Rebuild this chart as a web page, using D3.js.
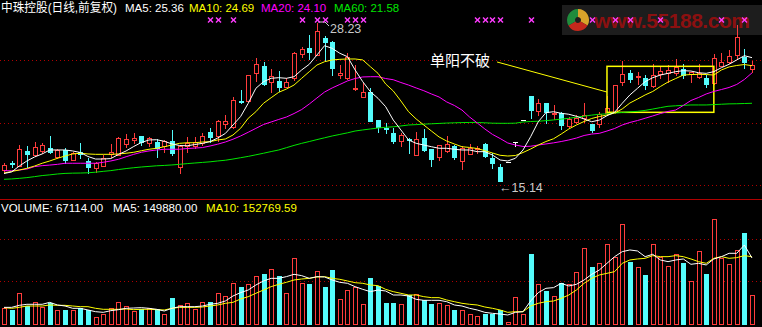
<!DOCTYPE html>
<html><head><meta charset="utf-8">
<script src="https://cdn.jsdelivr.net/npm/d3@7"></script>
<style>html,body{margin:0;padding:0;background:#000;overflow:hidden}svg{display:block}</style>
</head><body><svg id="c" width="762" height="327"></svg>
<script>
const stockName = "中珠控股(日线,前复权)";
const opens = [16.05,16.63,16.41,17.63,17.27,17.65,17.85,17.10,17.71,16.88,
17.57,16.80,16.19,16.41,17.35,17.29,18.23,18.54,18.87,18.26,
18.40,18.07,18.45,16.33,18.07,18.05,18.26,19.18,18.87,19.89,
19.64,21.77,21.77,24.06,24.67,23.37,23.42,22.95,23.65,25.64,
26.18,25.58,27.01,26.68,23.92,23.65,22.74,22.12,22.49,20.19,
19.56,19.14,18.48,18.64,17.29,18.73,17.79,17.10,17.63,18.04,
16.82,17.38,17.81,18.18,17.07,16.28,16.69,18.36,20.20,22.22,
20.96,21.58,20.67,20.80,19.72,20.05,20.36,19.84,19.84,20.77,
20.83,23.32,24.06,23.78,23.65,23.04,23.98,24.11,24.06,24.39,
23.98,23.78,23.65,23.23,24.69,24.97,25.54,25.44,24.39];
const closes = [16.47,16.55,17.77,17.38,17.93,18.10,17.57,17.71,16.88,17.44,
17.35,16.33,16.61,17.07,17.57,18.68,18.60,18.73,18.40,18.68,
17.90,18.45,17.44,18.07,18.26,18.40,18.89,18.81,20.11,20.13,
21.85,21.66,23.92,24.81,23.18,23.84,22.95,23.37,25.72,26.08,
25.80,27.57,26.68,24.48,24.06,25.44,22.82,22.49,20.11,19.59,
19.45,18.45,18.95,18.54,18.60,17.71,16.96,18.12,18.18,17.10,
17.85,17.85,17.85,17.21,16.61,15.17,16.69,18.36,20.20,21.02,
21.58,20.88,20.75,19.78,20.28,20.38,20.61,19.37,20.67,21.19,
23.09,23.98,23.59,23.86,23.09,23.92,24.25,24.34,24.61,23.92,
24.15,24.06,23.18,25.31,24.97,25.52,27.10,25.02,24.75];
const highs = [16.61,16.82,18.12,18.07,18.37,18.31,18.87,17.77,17.85,17.57,
18.31,17.02,16.74,17.29,18.21,18.76,19.03,19.12,18.88,18.76,
18.60,18.54,19.37,18.12,18.76,18.76,19.09,19.51,20.19,20.61,
22.12,22.68,23.96,25.36,25.02,24.42,24.25,23.70,25.80,26.27,
27.24,28.23,27.18,26.70,24.75,25.72,24.75,23.23,22.87,20.21,
19.92,19.51,19.09,18.68,19.18,19.42,17.81,18.14,18.87,18.12,
18.04,18.21,18.04,18.31,17.44,16.55,16.69,18.36,20.20,22.22,
21.93,21.60,21.44,20.82,20.47,20.61,21.58,19.86,20.83,22.18,
23.11,25.08,24.34,24.20,23.92,24.81,24.61,24.75,25.25,24.81,
24.20,24.81,23.92,25.64,25.72,25.99,28.06,26.08,25.08];
const lows = [15.83,16.33,16.38,16.33,17.21,17.49,17.44,17.02,16.61,16.86,
17.02,15.78,15.91,16.38,17.15,17.27,17.98,18.26,18.12,18.07,
17.10,17.57,17.29,15.78,17.57,17.85,18.12,18.35,18.45,19.51,
19.51,21.58,21.75,23.43,23.09,22.54,22.60,22.94,23.51,25.44,
25.25,25.56,25.17,23.92,23.65,23.63,22.72,22.10,20.09,19.22,
19.09,18.26,18.04,17.44,17.27,17.65,16.41,16.88,17.57,16.94,
16.11,17.36,17.49,17.15,16.19,15.14,16.69,18.04,20.20,20.34,
20.61,19.92,20.25,19.42,19.64,19.92,20.05,19.22,19.64,20.61,
20.75,23.09,23.37,23.15,22.74,22.95,23.65,23.37,23.92,23.65,
23.37,23.65,22.95,23.15,24.67,24.89,25.33,24.53,24.20];
const volumes = [37300,33600,70900,42500,50700,41000,48500,32800,33600,33600,
37300,33600,17200,24600,37300,50700,42500,31300,35000,37300,
35000,24600,59700,44800,48500,35800,50700,50700,70900,64900,
93200,84300,91000,109700,114100,125300,109700,70900,149200,93200,
91000,120100,85000,122300,57400,77600,85800,46300,104400,87300,
50000,50000,47000,67100,68600,56000,47000,48500,44800,33600,
33600,24600,20100,23900,23900,33600,6000,62000,24600,158900,
91000,76100,64900,93200,91000,117900,171600,130500,138000,180500,
152900,225300,141700,129100,111900,180500,152900,132000,158200,138800,
98500,165600,114100,237200,150700,136500,167900,205900,67114];
const ma5 = [15.76,15.89,16.38,16.80,17.13,17.38,17.71,17.71,17.71,17.63,
17.50,17.17,16.96,16.96,17.00,17.34,17.63,18.00,18.33,18.54,
18.56,18.43,18.21,18.08,18.06,18.16,18.26,18.40,18.70,19.08,
19.78,20.48,21.58,22.82,23.37,23.65,23.70,23.65,23.78,24.34,
24.81,25.58,26.35,26.13,25.72,25.44,24.34,23.37,22.54,21.99,
21.30,20.19,19.37,18.54,18.26,18.12,17.98,17.85,17.85,17.77,
17.71,17.71,17.57,17.57,17.29,16.88,16.80,17.02,17.71,18.81,
20.05,20.80,20.88,20.75,20.67,20.50,20.28,20.05,20.19,20.55,
20.83,21.58,22.27,22.82,23.37,23.70,23.92,24.06,24.20,24.28,
24.25,24.11,24.06,24.20,24.53,24.81,25.17,25.52,25.36];
const ma10 = [15.80,15.93,16.05,16.19,16.38,16.61,16.80,17.02,17.21,17.38,
17.44,17.38,17.35,17.35,17.35,17.38,17.44,17.52,17.65,17.77,
17.85,17.98,18.12,18.26,18.31,18.31,18.37,18.40,18.54,18.62,
18.95,19.51,20.34,20.88,21.58,22.04,22.49,22.76,23.09,23.65,
24.20,24.75,25.02,25.17,25.22,25.25,25.25,25.17,24.61,24.06,
23.18,22.60,21.77,20.88,20.28,19.78,19.28,18.79,18.45,18.21,
17.98,17.92,17.83,17.65,17.46,17.27,17.21,17.25,17.50,17.79,
18.12,18.41,18.64,19.03,19.45,19.78,20.07,20.32,20.48,20.61,
20.77,21.11,21.60,21.93,22.27,22.56,22.97,23.34,23.63,23.92,
23.96,23.98,23.96,23.92,24.34,24.59,24.71,24.79,24.69];
const ma20 = [15.99,15.99,16.05,16.13,16.33,16.41,16.46,16.52,16.61,16.61,
16.61,16.61,16.61,16.69,16.80,16.94,17.15,17.35,17.52,17.63,
17.71,17.77,17.77,17.77,17.83,17.87,17.91,18.04,18.19,18.37,
18.60,18.87,19.18,19.50,19.82,20.03,20.24,20.44,20.73,21.06,
21.52,22.02,22.51,22.85,23.14,23.43,23.63,23.76,23.78,23.78,
23.63,23.53,23.30,23.09,22.85,22.62,22.35,22.10,21.69,21.40,
21.02,20.44,19.95,19.45,19.00,18.66,18.29,18.12,18.00,18.02,
18.12,18.21,18.30,18.41,18.54,18.70,18.91,19.03,19.09,19.28,
19.49,19.78,19.99,20.15,20.34,20.53,20.73,20.90,21.02,21.40,
21.81,22.06,22.35,22.56,22.72,22.89,23.14,23.55,24.10];
const ma60 = [15.28,15.31,15.36,15.42,15.50,15.59,15.65,15.72,15.77,15.79,
15.80,15.82,15.87,15.94,16.00,16.09,16.17,16.24,16.30,16.35,
16.40,16.43,16.47,16.52,16.58,16.63,16.68,16.73,16.80,16.86,
16.96,17.07,17.18,17.31,17.44,17.58,17.71,17.90,18.09,18.26,
18.41,18.57,18.72,18.87,19.00,19.13,19.28,19.37,19.45,19.53,
19.59,19.63,19.70,19.78,19.81,19.85,19.88,19.91,19.94,19.96,
19.98,19.99,19.99,19.96,19.93,19.92,19.92,19.93,20.03,20.07,
20.09,20.14,20.20,20.27,20.33,20.43,20.51,20.60,20.67,20.70,
20.77,20.82,20.87,20.91,20.99,21.10,21.22,21.33,21.37,21.41,
21.44,21.44,21.44,21.47,21.50,21.53,21.54,21.56,21.58];
const volMa5 = [39500,39500,44000,46300,46300,46300,50700,44800,42500,37300,
37300,33600,29800,28300,32100,34300,37300,38000,38800,37300,
35100,31300,37300,41000,41000,41000,42500,46300,48500,53700,
64900,72400,78300,89500,98500,104400,104400,108200,113400,110400,
104400,108200,107400,100700,95500,93300,85800,79800,74600,78300,
76100,67100,67100,64900,57400,55200,55200,55200,52200,44800,
42500,37300,33600,28300,26100,24600,22400,28300,29800,53700,
72400,82100,83600,93300,87300,91000,100700,113400,123100,138000,
152900,164100,167900,165600,152900,158200,145500,141700,145500,147700,
135800,138000,134300,147700,152900,160400,160400,179000,149880];
const volMa10 = [38800,37300,39500,42500,42500,42500,44800,44000,44000,42500,
41000,41000,37300,35100,35100,35100,35800,34300,35100,35100,
34300,33600,37300,39500,39500,39500,40300,42500,44800,48500,
50700,58200,63400,70900,78300,85800,91000,95500,100700,102900,
104400,107400,108200,104400,102200,98500,94700,93300,89500,88000,
79800,74600,70900,67100,67100,63400,61200,61200,56000,52200,
48500,46300,44800,40300,37300,33600,28300,29800,29800,42500,
48500,52200,53700,59700,67100,78300,93300,104400,111900,115600,
119400,138000,145500,147700,149200,155200,152900,152900,155200,152900,
147700,141700,138000,149200,152900,149200,150700,155200,152769.59];
const signalIdx = [27,28,30,39,41,42,45,46,47,62,63,64,65,69,77,80,82,86,94,97];
const priceGrid = [25.17, 19.92, 14.81];
const volGrid = [192000, 98000];
const box = {from: 79, to: 93, top: 24.64, bottom: 20.83};
const note = {text: "单阳不破", idx: 55.8, price: 24.67, lineFrom: [64.6, 25.0], lineTo: [79, 22.51]};

const RED = "#ff3c3c", CYAN = "#54fcfc", WHITE = "#ffffff", YEL = "#ffff00", MAG = "#ff00ff", GRN = "#00e600";
const FONT = "'Liberation Sans','Noto Sans CJK SC',sans-serif";
const fmt = d3.format(".2f");
const n = opens.length;

const svg = d3.select("#c");
svg.append("rect").attr("width", 762).attr("height", 327).attr("fill", "#000");

const x = d3.scaleLinear().domain([0, n - 1]).range([4, 752]);
const y = d3.scaleLinear().domain([d3.min(lows), d3.max(highs)]).range([181, 23]);
const yv = d3.scaleLinear().domain([0, 281900]).range([325, 199]);

// watermark
const wm = svg.append("g");
wm.append("rect").attr("x", 562).attr("y", 5).attr("width", 200).attr("height", 30).attr("fill", "#1d1d1d");
const arc = d3.arc().innerRadius(3).outerRadius(11);
[[0, 2.1, "#d9a42a"], [2.1, 4.2, "#c4281c"], [4.2, 6.283, "#1f8c3c"]].forEach(([a0, a1, c]) => {
  wm.append("path").attr("transform", "translate(578,20)").attr("d", arc({startAngle: a0, endAngle: a1})).attr("fill", c);
});
wm.append("text").attr("x", 594).attr("y", 28).attr("font-family", FONT).attr("font-weight", "bold")
  .attr("font-size", 21).attr("fill", "#8c1010").attr("textLength", 156).text("www.55188.com");

// grids
const grid = svg.append("g").attr("shape-rendering", "crispEdges");
grid.selectAll(".pg").data(priceGrid).join("line")
  .attr("x1", 0).attr("x2", 762).attr("y1", d => Math.round(y(d)) + 0.5).attr("y2", d => Math.round(y(d)) + 0.5)
  .attr("stroke", "#b00000").attr("stroke-dasharray", "1,3");
grid.selectAll(".vg").data(volGrid).join("line")
  .attr("x1", 0).attr("x2", 762).attr("y1", d => Math.round(yv(d)) + 0.5).attr("y2", d => Math.round(yv(d)) + 0.5)
  .attr("stroke", "#b00000").attr("stroke-dasharray", "1,3");
grid.append("line").attr("x1", 0).attr("x2", 762).attr("y1", 199.5).attr("y2", 199.5).attr("stroke", "#b00000");

// candles
const idx = d3.range(n);
const cg = svg.append("g").attr("shape-rendering", "crispEdges");
const colOf = i => closes[i] > opens[i] ? RED : (closes[i] < opens[i] ? CYAN : WHITE);
cg.selectAll(".wick").data(idx).join("line")
  .attr("x1", i => Math.round(x(i)) + 0.5).attr("x2", i => Math.round(x(i)) + 0.5)
  .attr("y1", i => Math.round(y(highs[i]))).attr("y2", i => Math.round(y(lows[i])) + 1)
  .attr("stroke", colOf);
cg.selectAll(".up").data(idx.filter(i => closes[i] > opens[i])).join("rect")
  .attr("x", i => Math.round(x(i)) - 1.5).attr("width", 4)
  .attr("y", i => Math.round(y(closes[i])) + 0.5)
  .attr("height", i => Math.max(1, Math.round(y(opens[i])) - Math.round(y(closes[i]))))
  .attr("fill", "#000").attr("stroke", RED);
cg.selectAll(".dn").data(idx.filter(i => closes[i] < opens[i])).join("rect")
  .attr("x", i => Math.round(x(i)) - 2).attr("width", 5)
  .attr("y", i => Math.round(y(opens[i])))
  .attr("height", i => Math.max(1, Math.round(y(closes[i])) - Math.round(y(opens[i])) + 1))
  .attr("fill", CYAN);
cg.selectAll(".flat").data(idx.filter(i => closes[i] === opens[i])).join("line")
  .attr("x1", i => Math.round(x(i)) - 2).attr("x2", i => Math.round(x(i)) + 3)
  .attr("y1", i => Math.round(y(opens[i])) + 0.5).attr("y2", i => Math.round(y(opens[i])) + 0.5)
  .attr("stroke", WHITE);

// box
svg.append("rect").attr("x", x(box.from)).attr("y", y(box.top)).attr("width", x(box.to) - x(box.from))
  .attr("height", y(box.bottom) - y(box.top)).attr("fill", "none").attr("stroke", YEL).attr("stroke-width", 1.5);

// MA lines
const line = arr => d3.line().x((d, i) => x(i)).y(d => y(d))(arr);
[[ma60, GRN], [ma20, MAG], [ma10, YEL], [ma5, WHITE]].forEach(([a, c]) => {
  svg.append("path").attr("d", line(a)).attr("fill", "none").attr("stroke", c).attr("stroke-width", 1);
});

// annotation
svg.append("line").attr("x1", x(note.lineFrom[0])).attr("y1", y(note.lineFrom[1]))
  .attr("x2", x(note.lineTo[0])).attr("y2", y(note.lineTo[1])).attr("stroke", YEL).attr("stroke-width", 1);
svg.append("text").attr("x", x(note.idx)).attr("y", y(note.price)).attr("font-family", FONT)
  .attr("font-size", 15).attr("fill", WHITE).text(note.text);

// high / low labels
const hiI = d3.maxIndex(highs), loI = d3.minIndex(lows);
const hx = Math.round(x(hiI)), hy = Math.round(y(highs[hiI]));
svg.append("polyline").attr("points", `${hx + 1},${hy - 1} ${hx + 8},${hy - 1} ${hx + 12},${hy + 3}`)
  .attr("fill", "none").attr("stroke", "#c8c8c8");
svg.append("text").attr("x", hx + 13).attr("y", hy + 10).attr("font-family", FONT).attr("font-size", 12.5)
  .attr("fill", "#c8c8c8").text(fmt(highs[hiI]));
svg.append("text").attr("x", Math.round(x(loI)) - 1).attr("y", Math.round(y(lows[loI])) + 11).attr("font-family", FONT)
  .attr("font-size", 12.5).attr("fill", "#c8c8c8").text("←" + fmt(lows[loI]));

// signals
const sg = svg.append("g").attr("stroke", "#ff3cff").attr("stroke-width", 1.4);
signalIdx.forEach(i => {
  const cx = Math.round(x(i)) + 0.5;
  sg.append("line").attr("x1", cx - 2.5).attr("x2", cx + 2.5).attr("y1", 17.5).attr("y2", 22.5);
  sg.append("line").attr("x1", cx - 2.5).attr("x2", cx + 2.5).attr("y1", 22.5).attr("y2", 17.5);
});

// volume bars
const vg = svg.append("g").attr("shape-rendering", "crispEdges");
const upV = i => closes[i] >= opens[i];
vg.selectAll(".vu").data(idx.filter(upV)).join("rect")
  .attr("x", i => Math.round(x(i)) - 1.5).attr("width", 4)
  .attr("y", i => Math.round(yv(volumes[i])) + 0.5)
  .attr("height", i => Math.max(1, 324 - Math.round(yv(volumes[i]))))
  .attr("fill", "#000").attr("stroke", RED);
vg.selectAll(".vd").data(idx.filter(i => !upV(i))).join("rect")
  .attr("x", i => Math.round(x(i)) - 2).attr("width", 5)
  .attr("y", i => Math.round(yv(volumes[i])))
  .attr("height", i => 325 - Math.round(yv(volumes[i])))
  .attr("fill", CYAN);
const vline = arr => d3.line().x((d, i) => x(i)).y(d => yv(d))(arr);
svg.append("path").attr("d", vline(volMa10)).attr("fill", "none").attr("stroke", YEL);
svg.append("path").attr("d", vline(volMa5)).attr("fill", "none").attr("stroke", WHITE);

// titles
const t = (xx, yy, txt, c, fs) => svg.append("text").attr("x", xx).attr("y", yy).attr("font-family", FONT)
  .attr("font-size", fs).attr("fill", c).text(txt);
t(1, 12, stockName, WHITE, 12.5).attr("textLength", 116).attr("lengthAdjust", "spacingAndGlyphs");
t(125, 12, "MA5: " + fmt(ma5[n - 1]), WHITE, 11.5);
t(189, 12, "MA10: " + fmt(ma10[n - 1]), YEL, 11.5);
t(261, 12, "MA20: " + fmt(ma20[n - 1]), MAG, 11.5);
t(334, 12, "MA60: " + fmt(ma60[n - 1]), GRN, 11.5);
t(1, 212, "VOLUME: " + fmt(volumes[n - 1]), WHITE, 11.5);
t(113, 212, "MA5: " + fmt(volMa5[n - 1]), WHITE, 11.5);
t(206, 212, "MA10: " + fmt(volMa10[n - 1]), YEL, 11.5);
</script></body></html>
